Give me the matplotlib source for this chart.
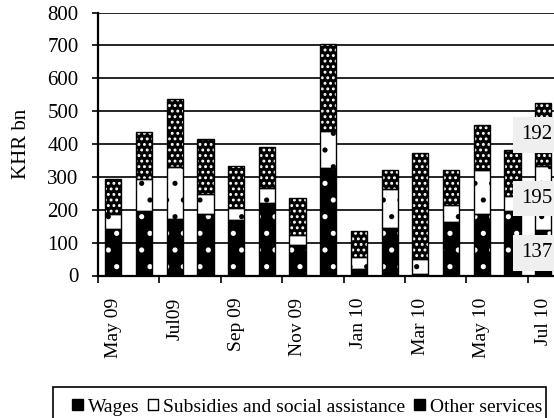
import numpy as np
import matplotlib
matplotlib.use("Agg")
import matplotlib.pyplot as plt
from matplotlib.patches import Patch, Rectangle

plt.rcParams['font.family'] = ['Liberation Serif', 'DejaVu Serif']
plt.rcParams['hatch.linewidth'] = 1.3

months = ['May 09', 'Jun 09', 'Jul09', 'Aug 09', 'Sep 09', 'Oct 09', 'Nov 09',
          'Dec 09', 'Jan 10', 'Feb 10', 'Mar 10', 'Apr 10', 'May 10', 'Jun 10',
          'Jul 10']
wages = [140, 197, 173, 186, 168, 221, 94, 327, 20, 145, 5, 163, 186, 197, 137]
subsidies = [47, 96, 157, 63, 36, 46, 29, 112, 36, 117, 46, 52, 136, 46, 195]
other = [106, 143, 208, 165, 130, 124, 113, 265, 79, 60, 322, 107, 136, 140, 192]
labelled_bar = 14  # only the last bar carries data labels

x = np.arange(len(months))
w = 0.53
b2 = np.array(wages)
b3 = b2 + np.array(subsidies)

fig = plt.figure(figsize=(5.54, 4.18), dpi=100)
ax = fig.add_axes([98 / 554, 1 - 275.5 / 418, 460.5 / 554, 263 / 418])

for yv in range(100, 900, 100):
    ax.axhline(yv, color='black', lw=1.2, zorder=1)

# fills with dotted hatching (hatch colour = edgecolor), then outlines
ax.bar(x, wages, w, color='black', edgecolor='white', hatch='.', lw=0, zorder=2)
ax.bar(x, subsidies, w, bottom=b2, color='white', edgecolor='black', hatch='.', lw=0, zorder=2)
ax.bar(x, other, w, bottom=b3, color='black', edgecolor='white', hatch='...', lw=0, zorder=2)
for vals, bot in [(wages, 0), (subsidies, b2), (other, b3)]:
    ax.bar(x, vals, w, bottom=bot, fill=False, edgecolor='black', lw=1.0, zorder=3)

i = labelled_bar
for val, bot in [(wages[i], 0), (subsidies[i], b2[i]), (other[i], b3[i])]:
    ax.text(x[i] - 0.2, bot + val / 2, str(val), ha='center', va='center',
            fontsize=15, zorder=5, clip_on=False,
            bbox=dict(boxstyle='square,pad=0.4', fc='#efefef', ec='none'))

ax.set_xlim(-0.5, len(months) - 0.5)
ax.set_ylim(0, 800)
ax.set_yticks(range(0, 900, 100))
ax.set_ylabel('KHR bn', fontsize=15)
ax.yaxis.set_label_coords((31 - 98) / 460.5, 0.5)

ax.set_xticks(np.arange(-0.5, len(months), 2))
ax.set_xticklabels([])
ax.set_xticks(x[::2], minor=True)
ax.set_xticklabels(months[::2], minor=True, rotation=90)
ax.tick_params(axis='x', which='major', length=5, width=1.2, direction='out')
ax.tick_params(axis='x', which='minor', length=0, pad=16, labelsize=14)
ax.tick_params(axis='y', length=4, width=1.2, pad=10, labelsize=15)

for s in ['top', 'right']:
    ax.spines[s].set_visible(False)
ax.spines['left'].set_linewidth(1.6)
ax.spines['bottom'].set_linewidth(1.6)

# legend frame runs off the bottom edge of the picture
fig.patches.append(Rectangle((53 / 554, -0.05), 493 / 554, 0.05 + 31.5 / 418,
                             transform=fig.transFigure, fill=False,
                             edgecolor='black', lw=1.2))
handles = [Patch(facecolor='black', edgecolor='black'),
           Patch(facecolor='white', edgecolor='black'),
           Patch(facecolor='black', edgecolor='black')]
fig.legend(handles, ['Wages', 'Subsidies and social assistance', 'Other services'],
           loc='center left', bbox_to_anchor=(72 / 554, 1 - 407 / 418, 470 / 554, 0),
           mode='expand', ncol=3, borderaxespad=0, borderpad=0, fontsize=14,
           handlelength=0.55, handleheight=0.55, handletextpad=0.25,
           frameon=False)

fig.savefig('out.png', dpi=100)
